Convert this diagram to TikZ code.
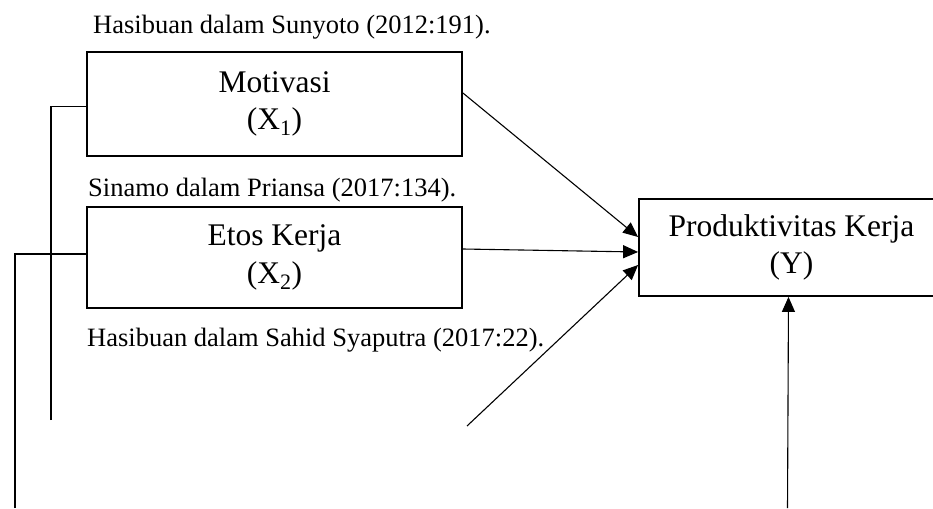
\documentclass[tikz,border=0pt]{standalone}
\usepackage{fontspec}
\setmainfont{Liberation Serif}
\usetikzlibrary{arrows.meta}
\tikzset{
  varbox/.style={draw, line width=1.8pt, rectangle, align=center, inner sep=0pt,
    font=\fontsize{31.5}{37.5}\selectfont},
  cite/.style={anchor=base west, inner sep=0pt, font=\fontsize{26.5}{31}\selectfont},
  link/.style={line width=1.1pt},
  arr/.style={line width=1.1pt, -{Triangle[length=15pt,width=13pt]}}
}
\begin{document}
\begin{tikzpicture}[x=1pt,y=-1pt]
\useasboundingbox (0,0) rectangle (933,508);
\clip (0,0) rectangle (933,508);
% boxes
\node[varbox, minimum width=375pt, minimum height=104pt] (m) at (274.5,104)
  {Motivasi\\(X\textsubscript{1})};
\node[varbox, minimum width=375pt, minimum height=101pt] (e) at (274.5,257.5)
  {Etos Kerja\\(X\textsubscript{2})};
\node[varbox, minimum width=305pt, minimum height=97pt] (p) at (791.5,247.5)
  {Produktivitas Kerja\\(Y)};
% citations
\node[cite] (c1t) at (93,33.3) {Hasibuan dalam Sunyoto (2012:191).};
\node[cite] (c2t) at (88,196.7) {Sinamo dalam Priansa (2017:134).};
\node[cite] (c3t) at (87,346.7) {Hasibuan dalam Sahid Syaputra (2017:22).};
% free ends
\coordinate (l1) at (51,420);
\coordinate (l2) at (15,508);
\coordinate (a3) at (467,426);
\coordinate (a4) at (787.5,508);
% connectors
\draw[link] (l1) |- ([yshift=-2.7pt]m.west);
\draw[link] (l2) |- ([yshift=3.5pt]e.west);
\draw[arr] ([yshift=11pt]m.east) -- ([yshift=10.5pt]p.west);
\draw[arr] ([yshift=8.5pt]e.east) -- ([yshift=-4.5pt]p.west);
\draw[arr] (a3) -- ([yshift=-17.5pt]p.west);
\draw[arr] (a4) -- ([xshift=-3pt]p.south);
\end{tikzpicture}
\end{document}
